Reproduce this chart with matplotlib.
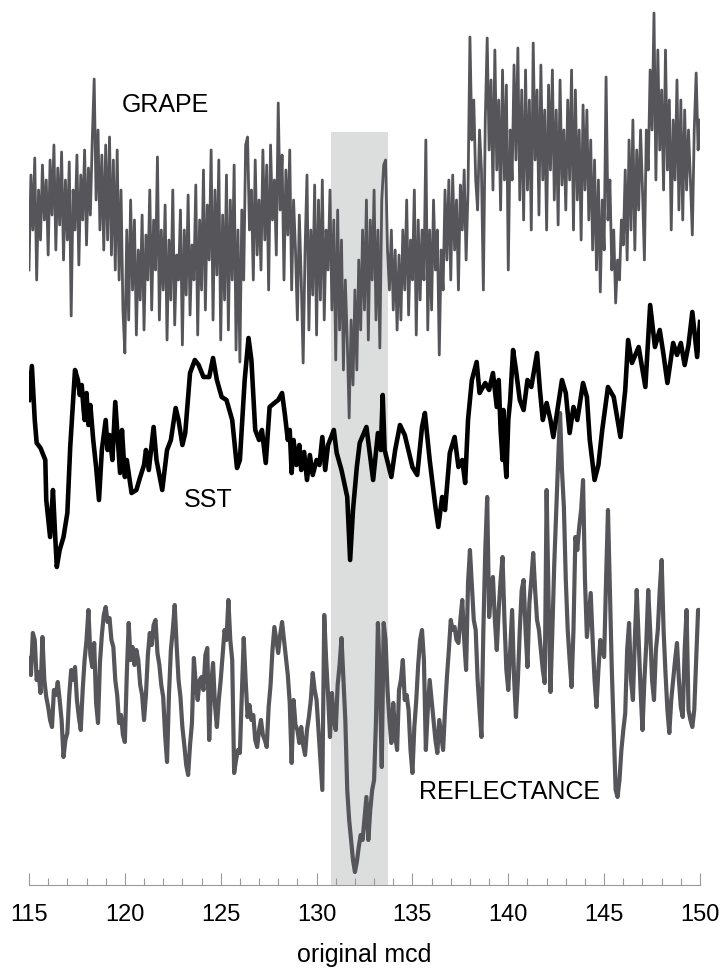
import numpy as np
import matplotlib
matplotlib.use("Agg")
import matplotlib.pyplot as plt

# GRAPE density, 0.1 m spacing from 115 to 150 mcd (arbitrary units)
grape_val = [
    160, 255, 200, 272, 150, 240, 190, 265, 210, 250,
    175, 270, 215, 285, 180, 262, 205, 278, 170, 250,
    190, 268, 114, 240, 200, 275, 165, 255, 210, 280,
    185, 262, 215, 290, 351, 230, 300, 200, 275, 180,
    285, 190, 293, 175, 270, 160, 280, 150, 240, 120,
    77, 200, 110, 230, 140, 210, 95, 180, 130, 215,
    100, 195, 150, 240, 120, 210, 160, 273, 110, 200,
    140, 225, 90, 190, 130, 240, 105, 175, 150, 220,
    85, 200, 135, 235, 115, 185, 150, 245, 95, 210,
    140, 260, 120, 225, 170, 280, 110, 240, 155, 270,
    90, 215, 130, 255, 100, 230, 150, 265, 80, 200,
    68, 220, 150, 285, 293, 200, 240, 150, 270, 175,
    230, 160, 280, 190, 265, 140, 285, 210, 250, 175,
    327, 220, 275, 150, 260, 195, 280, 140, 230, 180,
    110, 215, 150, 67, 180, 255, 100, 200, 135, 245,
    95, 230, 130, 250, 110, 200, 160, 240, 120, 210,
    70, 220, 100, 190, 60, 150, 90, 12, 110, 45,
    140, 60, 170, 100, 200, 120, 230, 90, 210, 150,
    240, 110, 200, 82, 230, 265, 270, 180, 140, 200,
    120, 180, 100, 175, 110, 200, 140, 230, 115, 190,
    150, 240, 95, 210, 130, 200, 150, 290, 100, 200,
    120, 230, 160, 200, 75, 180, 140, 240, 170, 250,
    150, 255, 180, 230, 140, 245, 200, 260, 170, 240,
    393, 290, 330, 250, 220, 300, 260, 140, 310, 392,
    280, 350, 240, 380, 260, 330, 220, 360, 250, 345,
    160, 300, 250, 365, 270, 382, 230, 340, 210, 360,
    240, 330, 200, 387, 270, 340, 215, 365, 250, 320,
    200, 345, 260, 360, 230, 320, 205, 350, 245, 300,
    220, 330, 250, 360, 200, 340, 230, 300, 190, 325,
    240, 320, 210, 290, 180, 270, 160, 250, 138, 230,
    180, 353, 210, 250, 160, 200, 127, 170, 150, 210,
    185, 260, 170, 290, 200, 310, 180, 280, 220, 300,
    240, 170, 300, 260, 360, 300, 417, 250, 380, 280,
    340, 240, 380, 260, 330, 200, 310, 250, 350, 220,
    330, 210, 320, 240, 300, 250, 195, 300, 357, 280,
    310,
]
grape_mcd = np.linspace(115, 150, len(grape_val))

# SST record (arbitrary units)
sst_mcd = [
    115.0, 115.15, 115.3, 115.4, 115.6, 115.85, 115.9, 116.1, 116.25, 116.35,
    116.45, 116.6, 116.8, 117.0, 117.15, 117.4, 117.55, 117.65, 117.75, 117.85,
    117.9, 118.0, 118.1, 118.2, 118.35, 118.5, 118.65, 118.8, 119.0, 119.1,
    119.2, 119.35, 119.5, 119.6, 119.75, 119.85, 120.0, 120.1, 120.35, 120.6,
    120.8, 121.0, 121.1, 121.25, 121.5, 121.65, 121.95, 122.2, 122.4, 122.65,
    122.8, 123.0, 123.15, 123.4, 123.65, 123.85, 124.1, 124.4, 124.6, 124.8,
    125.05, 125.3, 125.6, 125.85, 126.0, 126.25, 126.45, 126.6, 126.8, 127.0,
    127.15, 127.35, 127.55, 127.8, 128.0, 128.2, 128.35, 128.5, 128.6, 128.7,
    128.8, 128.95, 129.1, 129.2, 129.35, 129.5, 129.65, 129.8, 130.0, 130.15,
    130.3, 130.45, 130.6, 130.7, 130.9, 131.05, 131.3, 131.6, 131.75, 131.9,
    132.1, 132.25, 132.6, 132.95, 133.2, 133.35, 133.45, 133.55, 133.9, 134.1,
    134.35, 134.6, 135.0, 135.25, 135.5, 135.65, 135.9, 136.2, 136.35, 136.55,
    136.7, 136.95, 137.2, 137.4, 137.6, 137.75, 137.9, 138.1, 138.35, 138.5,
    138.8, 139.0, 139.2, 139.4, 139.5, 139.6, 139.7, 139.75, 139.8, 139.9,
    140.0, 140.1, 140.25, 140.4, 140.6, 140.8, 141.0, 141.2, 141.5, 141.65,
    141.8, 142.0, 142.2, 142.35, 142.6, 142.8, 143.0, 143.2, 143.4, 143.6,
    143.9, 144.1, 144.25, 144.5, 144.7, 144.9, 145.2, 145.5, 145.85, 146.1,
    146.25, 146.45, 146.8, 147.15, 147.4, 147.65, 147.9, 148.1, 148.3, 148.6,
    148.8, 149.0, 149.2, 149.4, 149.6, 149.85, 150.0,
]
sst_val = [
    170, 204, 150, 127, 122, 110, 70, 33, 80, 40,
    3, 20, 33, 57, 123, 200, 190, 175, 185, 160,
    150, 177, 145, 165, 130, 103, 70, 120, 150, 120,
    135, 110, 168, 140, 97, 140, 93, 110, 77, 80,
    93, 105, 120, 100, 143, 110, 80, 120, 130, 162,
    150, 125, 137, 197, 210, 205, 193, 193, 212, 190,
    173, 170, 150, 102, 110, 190, 232, 210, 140, 130,
    140, 107, 163, 167, 170, 177, 155, 130, 140, 97,
    130, 105, 125, 100, 118, 90, 115, 95, 110, 105,
    133, 100, 125, 130, 140, 117, 100, 73, 10, 60,
    103, 127, 143, 90, 137, 120, 175, 120, 93, 120,
    145, 135, 103, 95, 143, 157, 110, 63, 43, 73,
    60, 117, 133, 103, 110, 87, 150, 190, 208, 177,
    187, 180, 197, 163, 190, 140, 110, 160, 120, 93,
    150, 170, 220, 200, 170, 160, 190, 183, 217, 180,
    150, 167, 150, 133, 165, 190, 177, 137, 163, 150,
    187, 173, 130, 90, 105, 140, 183, 173, 133, 180,
    230, 207, 223, 183, 265, 223, 240, 215, 187, 227,
    215, 227, 205, 225, 258, 213, 248,
]

# colour reflectance, 0.1 m spacing (arbitrary units)
refl_val = [
    222, 205, 247, 240, 200, 208, 187, 243, 200, 183,
    173, 160, 153, 190, 185, 198, 180, 160, 123, 140,
    147, 185, 210, 200, 213, 180, 163, 150, 190, 220,
    240, 270, 225, 213, 237, 177, 157, 217, 245, 265,
    273, 258, 262, 240, 233, 200, 185, 157, 165, 145,
    138, 205, 257, 220, 233, 215, 230, 220, 195, 185,
    160, 185, 225, 247, 235, 255, 260, 227, 215, 195,
    183, 145, 118, 185, 230, 250, 275, 235, 200, 183,
    153, 135, 115, 105, 135, 157, 222, 195, 180, 200,
    203, 190, 225, 232, 140, 195, 217, 175, 153, 180,
    200, 225, 250, 240, 280, 240, 220, 107, 120, 130,
    127, 185, 242, 200, 163, 175, 160, 165, 140, 133,
    150, 160, 145, 140, 133, 173, 195, 230, 253, 240,
    227, 245, 258, 240, 223, 205, 177, 117, 180, 155,
    150, 137, 153, 135, 125, 150, 163, 180, 207, 190,
    180, 150, 120, 90, 265, 220, 185, 143, 187, 160,
    150, 195, 215, 242, 200, 160, 90, 60, 40, 20,
    8, 18, 33, 45, 40, 62, 83, 40, 70, 90,
    100, 160, 257, 200, 113, 257, 240, 190, 160, 137,
    177, 145, 130, 190, 200, 220, 180, 185, 170, 130,
    107, 153, 180, 215, 240, 250, 220, 130, 170, 200,
    180, 160, 140, 127, 160, 145, 130, 170, 203, 230,
    260, 250, 253, 240, 237, 260, 280, 240, 210, 297,
    330, 295, 260, 250, 200, 170, 143, 250, 330, 383,
    263, 290, 303, 260, 230, 270, 300, 323, 260, 210,
    190, 230, 270, 203, 163, 200, 250, 290, 300, 250,
    213, 277, 300, 327, 290, 260, 250, 230, 210, 197,
    390, 280, 188, 250, 317, 370, 420, 467, 410, 373,
    300, 250, 220, 193, 250, 343, 330, 353, 370, 400,
    300, 243, 265, 287, 240, 200, 173, 210, 240, 230,
    223, 300, 370, 290, 210, 150, 90, 83, 100, 130,
    150, 167, 230, 257, 200, 180, 240, 290, 240, 190,
    150, 200, 237, 290, 250, 200, 180, 230, 250, 290,
    320, 250, 207, 170, 147, 180, 200, 220, 237, 200,
    173, 163, 230, 270, 170, 160, 153, 170, 220, 270,
    270,
]
refl_mcd = np.linspace(115, 150, len(refl_val))

# interval highlighted on all three records
event_lo, event_hi = 130.75, 133.73

gray = "#55555a"
plain = ["Liberation Sans", "DejaVu Sans"]

fig = plt.figure(figsize=(7.21, 9.73), dpi=100)
ax = fig.add_axes([29 / 721, 88 / 973, 671 / 721, 885 / 973])
ax.set_xlim(115, 150)
ax.set_ylim(0, 885)

# stack the records with their own offsets
ax.axvspan(event_lo, event_hi, ymin=0, ymax=753 / 885, color="#dcdddd", lw=0, zorder=0)
ax.plot(grape_mcd, 455 + np.array(grape_val), color=gray, lw=2.0, zorder=2)
ax.plot(sst_mcd, 315 + np.array(sst_val), color="black", lw=3.3, zorder=3,
        solid_joinstyle="round")
ax.plot(refl_mcd, 5 + np.array(refl_val), color=gray, lw=3.0, zorder=2,
        solid_joinstyle="round")

ax.text(122.1, 780, "GRAPE", fontsize=18, family=plain, ha="center", va="center")
ax.text(124.35, 385, "SST", fontsize=18, family=plain, ha="center", va="center")
ax.text(140.05, 93, "REFLECTANCE", fontsize=18, family=plain, ha="center", va="center")

for s in ["top", "right", "left"]:
    ax.spines[s].set_visible(False)
ax.spines["bottom"].set_color("#999999")
ax.spines["bottom"].set_linewidth(0.8)
ax.set_yticks([])
ax.set_xticks(np.arange(115, 151, 5))
ax.set_xticks(np.arange(115, 151, 1), minor=True)
ax.tick_params(axis="x", which="major", direction="in", length=9, width=0.8,
               color="#999999", pad=14, labelsize=17)
ax.tick_params(axis="x", which="minor", direction="in", length=5, width=0.8,
               color="#999999")
for lab in ax.get_xticklabels():
    lab.set_family(plain)
ax.set_xlabel("original mcd", fontsize=18, family=plain, labelpad=12)

fig.savefig("out.png", dpi=100)
